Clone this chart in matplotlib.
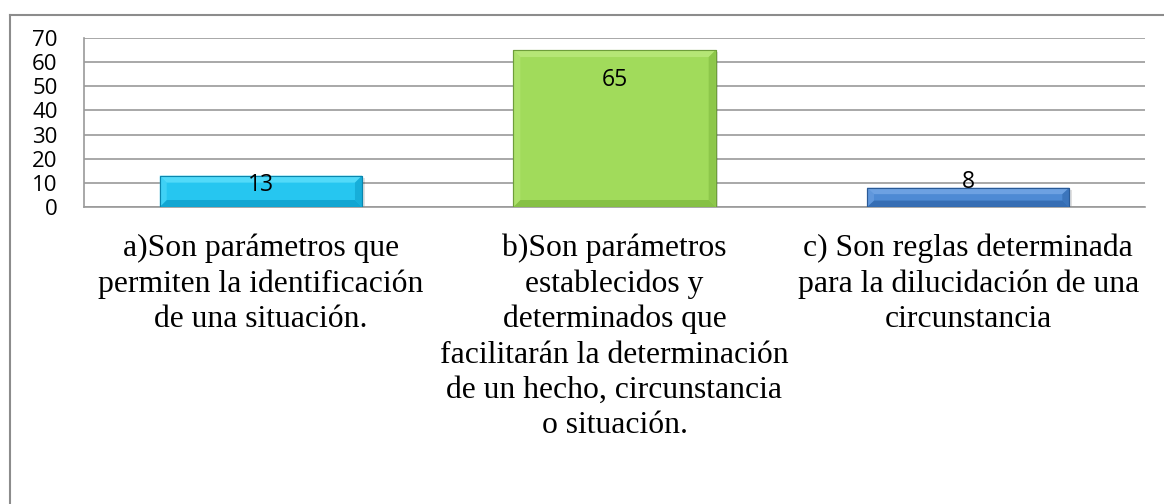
"""Bar chart: distribution of answers (a / b / c) for the survey question."""
import matplotlib
matplotlib.use("Agg")
import matplotlib.pyplot as plt
from matplotlib.patches import Polygon
from matplotlib.lines import Line2D

# --- data --------------------------------------------------------------
CATEGORIES = [
    "a)Son parámetros que\npermiten la identificación\nde una situación.",
    "b)Son parámetros\nestablecidos y\ndeterminados que\nfacilitarán la determinación\nde un hecho, circunstancia\no situación.",
    "c) Son reglas determinada\npara la dilucidación de una\ncircunstancia",
]
VALUES = [13, 65, 8]
YTICKS = [0, 10, 20, 30, 40, 50, 60, 70]

# --- style -------------------------------------------------------------
# (main, light top, dark bottom, edge)
BAR_COLORS = [
    ("#26C6F0", "#5EE0FC", "#0E9FCB", "#0A86AE"),
    ("#A1DB5B", "#BBE97E", "#80BB40", "#6E9E3A"),
    ("#4E8AD4", "#76A8E6", "#3068AC", "#2A5A96"),
]
LABEL_OFFSETS_PT = [-6.8, -21.6, 4.3]   # data-label nudge from bar top
GRID = "#9A9A9A"
SANS = ["Open Sans", "DejaVu Sans"]
SERIF = ["Liberation Serif", "DejaVu Serif"]

W, H = 1164, 504


def bevel(ax, x0, w, h, cols, bpx=7):
    main, light, dark, edge = cols
    # convert bevel size in pixels to data units
    t = ax.transData
    (px0, py0), (px1, py1) = t.transform([(0, 0), (1, 1)])
    bx = bpx / (px1 - px0)
    by = min(bpx / (py1 - py0), h / 3)
    x1 = x0 + w
    # soft shadow
    ax.add_patch(Polygon([(x0 + bx * 0.4, -0.8), (x1 + bx * 0.4, -0.8),
                          (x1 + bx * 0.4, h - 0.8), (x0 + bx * 0.4, h - 0.8)],
                         closed=True, fc="#000000", alpha=0.12, lw=0, zorder=2))
    ax.add_patch(Polygon([(x0, 0), (x1, 0), (x1, h), (x0, h)], closed=True,
                         fc=main, ec=edge, lw=0.8, zorder=3))
    ax.add_patch(Polygon([(x0, h), (x1, h), (x1 - bx, h - by), (x0 + bx, h - by)],
                         closed=True, fc=light, alpha=0.8, lw=0, zorder=4))
    ax.add_patch(Polygon([(x0, 0), (x1, 0), (x1 - bx, by), (x0 + bx, by)],
                         closed=True, fc=dark, alpha=0.8, lw=0, zorder=4))
    ax.add_patch(Polygon([(x0, 0), (x0, h), (x0 + bx, h - by), (x0 + bx, by)],
                         closed=True, fc=light, alpha=0.45, lw=0, zorder=4))
    ax.add_patch(Polygon([(x1, 0), (x1, h), (x1 - bx, h - by), (x1 - bx, by)],
                         closed=True, fc=dark, alpha=0.6, lw=0, zorder=4))
    ax.add_patch(Polygon([(x0, 0), (x1, 0), (x1, h), (x0, h)], closed=True,
                         fc="none", ec=edge, lw=0.8, zorder=5))


def main():
    fig = plt.figure(figsize=(W / 100, H / 100), dpi=100)
    fig.patch.set_facecolor("white")

    # outer chart-area frame (right/bottom edges fall outside the image)
    fig.add_artist(Line2D([10 / W, 1.0], [1 - 14.5 / H, 1 - 14.5 / H],
                          transform=fig.transFigure, color="#8C8C8C", lw=1.5))
    fig.add_artist(Line2D([10 / W, 10 / W], [0, 1 - 14.5 / H],
                          transform=fig.transFigure, color="#8C8C8C", lw=1.5))

    ax = fig.add_axes([84 / W, 1 - 207 / H, (1145 - 84) / W, (207 - 38) / H])
    ax.set_xlim(-0.5, len(VALUES) - 0.5)
    ax.set_ylim(0, 70)

    for s in ("top", "right"):
        ax.spines[s].set_visible(False)
    for s in ("left", "bottom"):
        ax.spines[s].set_color(GRID)
        ax.spines[s].set_linewidth(1.2)

    ax.set_yticks(YTICKS)
    ax.yaxis.grid(True, color=GRID, lw=1.2)
    ax.set_axisbelow(True)
    ax.tick_params(axis="y", length=0, pad=19, labelsize=16)
    for lbl in ax.get_yticklabels():
        lbl.set_family(SANS)

    xs = range(len(VALUES))
    ax.set_xticks(list(xs))
    ax.set_xticklabels(CATEGORIES, family=SERIF, fontsize=22.8, linespacing=1.28,
                       va="top", ha="center")
    ax.tick_params(axis="x", length=0, pad=19)

    width = 0.572
    for i, (v, cols, off) in enumerate(zip(VALUES, BAR_COLORS, LABEL_OFFSETS_PT)):
        bevel(ax, i - width / 2, width, v, cols)
        ax.annotate(f"{v}", xy=(i, v), xytext=(0, off), textcoords="offset points",
                    ha="center", va="center", fontsize=16.5, family=SANS,
                    color="black", zorder=6)

    fig.savefig("out.png", dpi=100, facecolor="white")


if __name__ == "__main__":
    main()
